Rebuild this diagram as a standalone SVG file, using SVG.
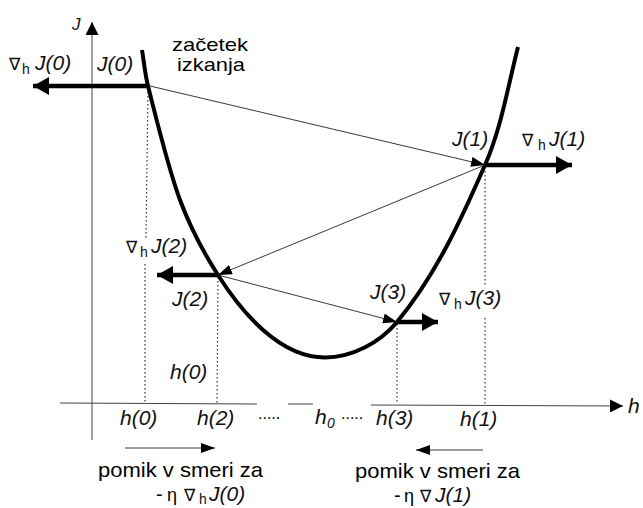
<svg xmlns="http://www.w3.org/2000/svg" width="643" height="508" viewBox="0 0 643 508">
<defs>
<style>
.t{font-family:"Liberation Sans",Arial,sans-serif;font-size:20px;fill:#000}
.i{font-family:"Liberation Sans",Arial,sans-serif;font-size:21px;font-style:italic;fill:#111}
.s{font-family:"Liberation Sans",Arial,sans-serif;font-size:14px;fill:#111}
.n{font-family:"DejaVu Sans","Liberation Sans",sans-serif;font-size:17px;fill:#111}
.ax{stroke:#444;stroke-width:1;fill:none}
.dot{stroke:#333;stroke-width:1.2;stroke-dasharray:1.5 2.5;fill:none}
.thin{stroke:#222;stroke-width:0.9;fill:none}
.thick{stroke:#000;stroke-width:4.5;fill:none}
</style>
<marker id="ah" viewBox="0 0 14 10" refX="14" refY="5" markerWidth="14" markerHeight="10" markerUnits="userSpaceOnUse" orient="auto"><path d="M0,0 L14,5 L0,10 Z" fill="#000"/></marker>
<marker id="big" viewBox="0 0 16 18" refX="16" refY="9" markerWidth="16" markerHeight="18" markerUnits="userSpaceOnUse" orient="auto"><path d="M0,0 L16,9 L0,18 Z" fill="#000"/></marker>
<marker id="axh" viewBox="0 0 13 13" refX="13" refY="6.5" markerWidth="13" markerHeight="13" markerUnits="userSpaceOnUse" orient="auto"><path d="M0,0 L13,6.5 L0,13 Z" fill="#000"/></marker>
</defs>
<rect width="643" height="508" fill="#fff"/>

<g id="axes">
<line class="ax" x1="92" y1="440" x2="92" y2="22" marker-end="url(#axh)"/>
<line class="ax" x1="60" y1="403" x2="257" y2="404"/>
<line class="ax" x1="288" y1="404" x2="313" y2="404"/>
<line class="ax" x1="371" y1="405" x2="623" y2="406" marker-end="url(#axh)"/>
<text class="i" x="72" y="30" style="font-size:17px">J</text>
<text class="i" x="628" y="413" style="font-size:21px">h</text>
</g>

<g id="guides">
<line class="dot" x1="148" y1="88" x2="146" y2="238"/>
<line class="dot" x1="145" y1="264" x2="145" y2="403"/>
<line class="dot" x1="218" y1="277" x2="217" y2="403"/>
<line class="dot" x1="397" y1="324" x2="397" y2="404"/>
<line class="dot" x1="485" y1="167" x2="485" y2="285"/>
<line class="dot" x1="485" y1="318" x2="485" y2="405"/>
</g>

<g id="curve">
<path d="M142,50 C144,62 145,74 148,86 C157.6,123.8 168.3,168.5 180,200 C189.8,226.3 202.9,251.5 218,275 C242,313 280,357.5 325,357.5 C352,357.5 379.7,342.8 397,322 C435.4,275.8 461,220 485,165 C501.3,128 508,86 518,47" fill="none" stroke="#000" stroke-width="4"/>
</g>

<g id="connectors">
<line class="thin" x1="150" y1="86" x2="485" y2="165" marker-end="url(#ah)"/>
<line class="thin" x1="485" y1="165" x2="218" y2="275" marker-end="url(#ah)"/>
<line class="thin" x1="218" y1="275" x2="397" y2="322" marker-end="url(#ah)"/>
<line class="thick" x1="148" y1="86" x2="33" y2="86" marker-end="url(#big)"/>
<line class="thick" x1="485" y1="165" x2="572" y2="165" marker-end="url(#big)"/>
<line class="thick" x1="218" y1="275" x2="157" y2="275" marker-end="url(#big)"/>
<line class="thick" x1="397" y1="322" x2="438" y2="322" marker-end="url(#big)"/>
<line class="thin" x1="125" y1="448" x2="215" y2="448" marker-end="url(#ah)"/>
<line class="thin" x1="483" y1="450" x2="416" y2="450" marker-end="url(#ah)"/>
</g>

<g id="J0">
<text class="n" x="9" y="70">∇</text><text class="s" x="22" y="74">h</text><text class="i" x="35" y="70">J(0)</text>
<text class="i" x="97" y="71">J(0)</text>
<text class="t" x="172" y="51" style="font-size:19px" textLength="76" lengthAdjust="spacingAndGlyphs">začetek</text>
<text class="t" x="177" y="71" style="font-size:19px" textLength="68" lengthAdjust="spacingAndGlyphs">izkanja</text>
</g>

<g id="J1">
<text class="i" x="452" y="146">J(1)</text>
<text class="n" x="522" y="146">∇</text><text class="s" x="538" y="150">h</text><text class="i" x="549" y="146">J(1)</text>
</g>

<g id="J2">
<text class="n" x="126" y="253">∇</text><text class="s" x="140" y="257">h</text><text class="i" x="151" y="253">J(2)</text>
<text class="i" x="172" y="306">J(2)</text>
</g>

<g id="J3">
<text class="i" x="370" y="299">J(3)</text>
<text class="n" x="439" y="305">∇</text><text class="s" x="454" y="309">h</text><text class="i" x="465" y="305">J(3)</text>
</g>

<g id="hlabels">
<text class="i" x="170" y="379">h(0)</text>
<text class="i" x="120" y="425">h(0)</text>
<text class="i" x="197" y="425">h(2)</text>
<text class="t" x="258" y="419" style="font-size:16px">.....</text>
<text class="i" x="315" y="424">h</text><text class="s" x="327" y="428" style="font-style:italic">0</text>
<text class="t" x="341" y="419" style="font-size:16px">.....</text>
<text class="i" x="376" y="425">h(3)</text>
<text class="i" x="460" y="426">h(1)</text>
</g>

<g id="step0">
<text class="t" x="98" y="477" style="font-size:21px" textLength="165" lengthAdjust="spacingAndGlyphs">pomik v smeri za</text>
<text class="t" x="156" y="501">-</text><text class="t" x="167" y="501" style="font-size:18px">η</text><text class="n" x="184" y="501">∇</text><text class="s" x="199" y="504">h</text><text class="i" x="209" y="501">J(0)</text>
</g>

<g id="step1">
<text class="t" x="355" y="478" style="font-size:21px" textLength="165" lengthAdjust="spacingAndGlyphs">pomik v smeri za</text>
<text class="t" x="394" y="502">-</text><text class="t" x="404" y="502" style="font-size:18px">η</text><text class="n" x="420" y="502">∇</text><text class="i" x="435" y="502">J(1)</text>
</g>
</svg>
